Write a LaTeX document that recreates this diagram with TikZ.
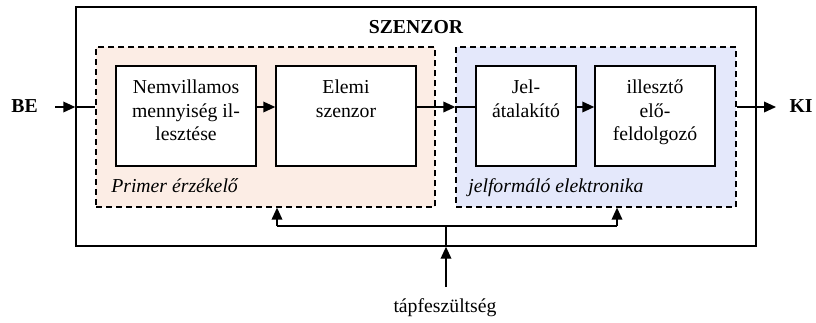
\documentclass[tikz,border=0pt]{standalone}
\usepackage{fontspec}
\setmainfont{Liberation Serif}
\usetikzlibrary{arrows.meta}
\definecolor{peach}{HTML}{FCEDE5}
\definecolor{lavender}{HTML}{E4E8FB}
\begin{document}
\begin{tikzpicture}[x=0.75pt,y=-0.75pt,
  every node/.style={font=\fontsize{14.8}{17.3}\selectfont, inner sep=0pt},
  line/.style={line width=1.1pt},
  arr/.style={line width=1.1pt, -{Triangle[length=9pt,width=8pt]}},
  frame/.style={draw, line width=1.1pt, rectangle, minimum height=239*0.75pt, minimum width=680*0.75pt},
  group/.style={draw, dashed, dash pattern=on 4.5pt off 3pt, line width=1pt, rectangle, minimum height=160*0.75pt},
  blockbox/.style={draw, line width=1.1pt, fill=white, rectangle, minimum height=100*0.75pt},
  blocktext/.style={align=center, anchor=north},
  grouplabel/.style={font=\fontsize{14.8}{17.3}\selectfont\itshape, anchor=base west}
]
\useasboundingbox (0,0) rectangle (816,322);

% outer sensor frame and title
\node[frame] (outer) at (416,126.5) {};
\node[font=\fontsize{14.8}{17.3}\selectfont\bfseries, anchor=base] (title) at (416,33) {SZENZOR};

% the two dashed groups
\node[group, fill=peach, minimum width=339*0.75pt] (prim) at (265.5,127) {};
\node[group, fill=lavender, minimum width=280*0.75pt] (jel) at (596,127) {};
\node[grouplabel] (primlab) at (111,192) {Primer érzékelő};
\node[grouplabel] (jellab) at (468,192) {jelformáló elektronika};

% processing blocks
\node[blockbox, minimum width=140*0.75pt] (b1) at (186,116) {};
\node[blockbox, minimum width=140*0.75pt] (b2) at (346,116) {};
\node[blockbox, minimum width=100*0.75pt] (b3) at (526,116) {};
\node[blockbox, minimum width=120*0.75pt] (b4) at (655,116) {};
\node[blocktext] (t1) at (186,80) {Nemvillamos\\mennyiség il-\\lesztése};
\node[blocktext] (t2) at (346,80) {Elemi\\szenzor};
\node[blocktext] (t3) at (526,80) {Jel-\\átalakító};
\node[blocktext] (t4) at (655,80) {illesztő\\elő-\\feldolgozó};

% input / output labels
\node[font=\fontsize{14.8}{17.3}\selectfont\bfseries, anchor=base] (be) at (24.5,112) {BE};
\node[font=\fontsize{14.8}{17.3}\selectfont\bfseries, anchor=base] (ki) at (801,112) {KI};
\node[anchor=base] (tap) at (445,312) {tápfeszültség};

% reference points
\coordinate (sig) at (0,107);
\coordinate (bein) at (55,107);
\coordinate (kiend) at (776,107);
\coordinate (tapin) at (446,287);
\coordinate (bus) at (0,226);
\coordinate (busl) at (277,226);
\coordinate (busr) at (617,226);

% signal path
\draw[arr] (bein) -- (outer.west |- sig);
\draw[line] (outer.west |- sig) -- (prim.west |- sig);
\draw[arr] (b1.east |- sig) -- (b2.west |- sig);
\draw[arr] (b2.east |- sig) -- (jel.west |- sig);
\draw[line] (jel.west |- sig) -- (b3.west |- sig);
\draw[arr] (b3.east |- sig) -- (b4.west |- sig);
\draw[arr] (jel.east |- sig) -- (kiend);

% supply distribution
\draw[arr] (tapin) -- (tapin |- outer.south);
\draw[line] (tapin |- outer.south) -- (tapin |- bus);
\draw[line] (busl) -- (busr);
\draw[arr] (busl) -- (busl |- prim.south);
\draw[arr] (busr) -- (busr |- jel.south);
\end{tikzpicture}
\end{document}
